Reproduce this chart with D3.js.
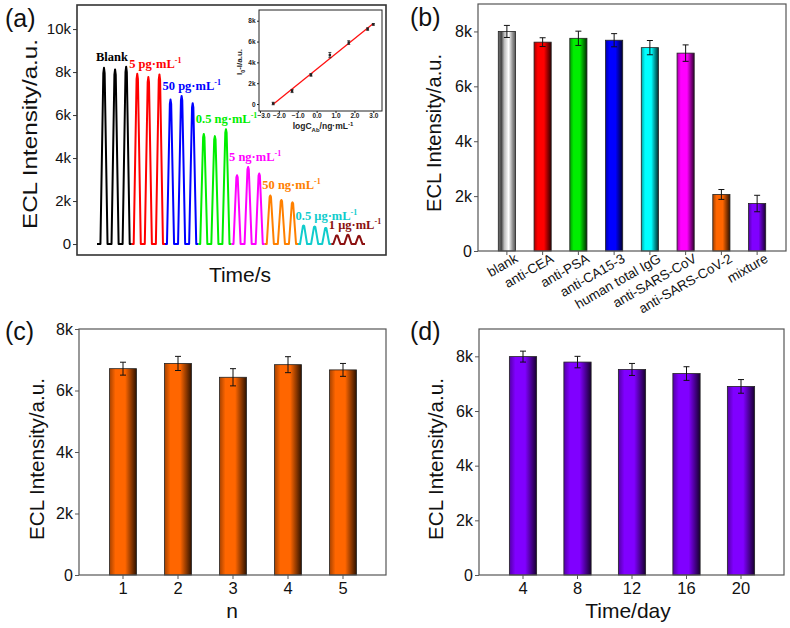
<!DOCTYPE html>
<html>
<head>
<meta charset="utf-8">
<script src="https://cdn.jsdelivr.net/npm/d3@7"></script>
<style>
  body { margin: 0; background: #fff; }
  svg { display: block; }
  text { font-family: "Liberation Sans", Arial, sans-serif; }
</style>
</head>
<body>
<svg id="chart" width="790" height="628"></svg>
<script>
"use strict";

// (a) ECL responses, three scans for every concentration
var concText = ['Blank', '5 pg·mL', '50 pg·mL', '0.5 ng·mL', '5 ng·mL', '50 ng·mL', '0.5 μg·mL', '1 μg·mL'];
var concSup = ['', '-1', '-1', '-1', '-1', '-1', '-1', '-1'];
var concColors = ['#000000', '#ff0000', '#0000ff', '#00ee00', '#ff00ff', '#ff8000', '#10cccc', '#8b1010'];
var peakHeights = [
  [8200, 8120, 8250],
  [7920, 7770, 7890],
  [6720, 6890, 6550],
  [5120, 5020, 5340],
  [3200, 3580, 3280],
  [2260, 2050, 1940],
  [860, 820, 750],
  [400, 430, 380]
];
var ticksA = [0, 2000, 4000, 6000, 8000, 10000];

// (a) inset calibration
var logC = [-2.3, -1.3, -0.3, 0.7, 1.7, 2.7, 3];
var deltaI = [50, 1250, 2800, 4700, 5900, 7200, 7650];
var deltaErr = [120, 150, 130, 250, 180, 120, 80];
var insetTicksX = [-3, -2, -1, 0, 1, 2, 3];
var insetTicksY = [0, 2000, 4000, 6000, 8000];

// (b) selectivity
var interfCats = ['blank', 'anti-CEA', 'anti-PSA', 'anti-CA15-3', 'human total IgG', 'anti-SARS-CoV', 'anti-SARS-CoV-2', 'mixture'];
var interfValues = [8000, 7610, 7750, 7680, 7410, 7210, 2060, 1730];
var interfErrors = [220, 160, 260, 240, 260, 300, 180, 300];
var interfColors = ['#f4f4f4', '#ff0000', '#00ee00', '#0000ff', '#00ffff', '#ff00ff', '#ff6600', '#8000ff'];
var ticksB = [0, 2000, 4000, 6000, 8000];

// (c) reproducibility
var runCats = ['1', '2', '3', '4', '5'];
var runValues = [6710, 6880, 6430, 6840, 6670];
var runErrors = [210, 230, 280, 260, 210];

// (d) stability
var dayCats = ['4', '8', '12', '16', '20'];
var dayValues = [7990, 7790, 7520, 7370, 6900];
var dayErrors = [200, 210, 220, 250, 250];

var svg = d3.select('#chart');
var defs = svg.append('defs');
var fmtK = function(d) { return d === 0 ? '0' : (d / 1000) + 'k'; };

function makeGradient(id, color) {
  var c = d3.color(color);
  var dark = d3.interpolateRgb(color, '#000')(0.82);
  var mid = d3.interpolateRgb(color, '#000')(0.35);
  var gr = defs.append('linearGradient').attr('id', id).attr('x1', '0%').attr('x2', '100%');
  gr.append('stop').attr('offset', '0%').attr('stop-color', mid);
  gr.append('stop').attr('offset', '22%').attr('stop-color', c);
  gr.append('stop').attr('offset', '58%').attr('stop-color', c);
  gr.append('stop').attr('offset', '100%').attr('stop-color', dark);
}

function makeGrayGradient(id) {
  var gr = defs.append('linearGradient').attr('id', id).attr('x1', '0%').attr('x2', '100%');
  [['0%', '#777'], ['18%', '#444'], ['35%', '#bbb'], ['60%', '#ffffff'], ['82%', '#999'], ['100%', '#555']].forEach(function(s) {
    gr.append('stop').attr('offset', s[0]).attr('stop-color', s[1]);
  });
}

function frame(x0, y0, x1, y1, col, w) {
  svg.append('rect').attr('x', x0).attr('y', y0).attr('width', x1 - x0).attr('height', y1 - y0)
    .attr('fill', 'none').attr('stroke', col).attr('stroke-width', w);
}

function yAxis(y, ticks, x0, size, col) {
  var g = svg.append('g').attr('transform', 'translate(' + x0 + ',0)')
    .call(d3.axisLeft(y).tickValues(ticks).tickFormat(fmtK).tickSize(4).tickPadding(2));
  g.select('.domain').remove();
  g.selectAll('line').attr('stroke', col);
  g.selectAll('text').attr('font-size', size).attr('fill', '#111').style('font-family', '"Liberation Sans", Arial, sans-serif');
  return g;
}

function yLabel(cx, cy, size, len) {
  var t = svg.append('text').attr('transform', 'translate(' + cx + ',' + cy + ') rotate(-90)')
    .attr('text-anchor', 'middle').attr('dy', '0.35em').attr('font-size', size).attr('fill', '#111')
    .text('ECL Intensity/a.u.');
  if (len) t.attr('textLength', len).attr('lengthAdjust', 'spacingAndGlyphs');
}

function panelTag(x, y, s) {
  svg.append('text').attr('x', x).attr('y', y).attr('font-size', 25).attr('fill', '#111').text(s);
}

function bars(x, y, cats, vals, errs, fills) {
  var g = svg.append('g');
  g.selectAll('rect.bar').data(cats).enter().append('rect').attr('class', 'bar')
    .attr('x', function(d) { return x(d); })
    .attr('y', function(d, i) { return y(vals[i]); })
    .attr('width', x.bandwidth())
    .attr('height', function(d, i) { return y(0) - y(vals[i]); })
    .attr('fill', function(d, i) { return fills[i]; })
    .attr('stroke', '#222').attr('stroke-width', 0.8);
  var cap = 3;
  cats.forEach(function(d, i) {
    var cx = x(d) + x.bandwidth() / 2;
    var eb = g.append('g').attr('stroke', '#111').attr('stroke-width', 1);
    eb.append('line').attr('x1', cx).attr('x2', cx).attr('y1', y(vals[i] + errs[i])).attr('y2', y(vals[i] - errs[i]));
    eb.append('line').attr('x1', cx - cap).attr('x2', cx + cap).attr('y1', y(vals[i] + errs[i])).attr('y2', y(vals[i] + errs[i]));
    eb.append('line').attr('x1', cx - cap).attr('x2', cx + cap).attr('y1', y(vals[i] - errs[i])).attr('y2', y(vals[i] - errs[i]));
  });
}

function xTicks(x, cats, yBase, col) {
  var g = svg.append('g').attr('transform', 'translate(0,' + yBase + ')')
    .call(d3.axisBottom(x).tickValues(cats).tickSize(4).tickPadding(3));
  g.select('.domain').remove();
  g.selectAll('line').attr('stroke', col);
  return g;
}

// ---------- (a) ----------
function drawA() {
  var xA = d3.scaleLinear().domain([-0.63, 23.54]).range([97, 365]);
  var yA = d3.scaleLinear().domain([-510, 11120]).range([255, 5]);
  var line = d3.line().x(function(p) { return xA(p[0]); }).y(function(p) { return yA(p[1]); });

  peakHeights.forEach(function(hs, g) {
    var first = 3 * g;
    var pts = [[g === 0 ? -0.63 : first - 0.5, 0]];
    hs.forEach(function(h, k) {
      var c = first + k;
      pts.push([c - 0.32, 0], [c - 0.06, h * 0.97], [c, h], [c + 0.06, h * 0.97], [c + 0.32, 0]);
    });
    pts.push([g === peakHeights.length - 1 ? 23.54 : first + 2.5, 0]);
    svg.append('path').attr('d', line(pts)).attr('fill', 'none')
      .attr('stroke', concColors[g]).attr('stroke-width', 2).attr('stroke-linejoin', 'round');

    var t = svg.append('text').attr('x', xA(first) - 8).attr('y', yA(d3.max(hs)) - 6)
      .attr('fill', concColors[g]).attr('font-size', 12.5).attr('font-weight', 'bold')
      .style('font-family', '"Liberation Serif", "Times New Roman", serif').text(concText[g]);
    if (concSup[g]) t.append('tspan').attr('dy', -5).attr('font-size', 8).text(concSup[g]);
  });

  frame(77, 5, 386, 255, '#333', 1.6);
  yAxis(yA, ticksA, 77, 15, '#333');
  yLabel(30, 134, 20, 190);
  svg.append('text').attr('x', 240).attr('y', 282).attr('text-anchor', 'middle')
    .attr('font-size', 21).attr('fill', '#111').text('Time/s');
  panelTag(5, 27, '(a)');

  // inset
  var xI = d3.scaleLinear().domain([-3.05, 3.46]).range([259, 382]);
  var yI = d3.scaleLinear().domain([-670, 9030]).range([111, 10]);
  svg.append('rect').attr('x', 259).attr('y', 10).attr('width', 123).attr('height', 101)
    .attr('fill', '#fff').attr('stroke', '#222').attr('stroke-width', 1);
  var gy = svg.append('g').attr('transform', 'translate(259,0)')
    .call(d3.axisLeft(yI).tickValues(insetTicksY).tickFormat(fmtK).tickSize(2).tickPadding(1.5));
  var gx = svg.append('g').attr('transform', 'translate(0,111)')
    .call(d3.axisBottom(xI).tickValues(insetTicksX).tickSize(2).tickPadding(0.5));
  [gx, gy].forEach(function(g) {
    g.select('.domain').remove();
    g.selectAll('line').attr('stroke', '#222');
    g.selectAll('text').attr('font-size', 6.5).attr('font-weight', 'bold').attr('fill', '#222')
      .style('font-family', '"Liberation Sans", Arial, sans-serif');
  });
  gx.selectAll('text').attr('dx', function(d) { return d === -3 ? 3.5 : 0; });

  // least squares line through the calibration points
  var mx = d3.mean(logC), my = d3.mean(deltaI);
  var sxy = d3.sum(logC, function(v, i) { return (v - mx) * (deltaI[i] - my); });
  var sxx = d3.sum(logC, function(v) { return (v - mx) * (v - mx); });
  var slope = sxy / sxx, icpt = my - slope * mx;
  var xs = d3.extent(logC);
  svg.append('line').attr('x1', xI(xs[0])).attr('y1', yI(icpt + slope * xs[0]))
    .attr('x2', xI(xs[1])).attr('y2', yI(icpt + slope * xs[1]))
    .attr('stroke', '#ff1010').attr('stroke-width', 1.3);
  logC.forEach(function(v, i) {
    var cx = xI(v);
    var e = svg.append('g').attr('stroke', '#222').attr('stroke-width', 0.8);
    e.append('line').attr('x1', cx).attr('x2', cx).attr('y1', yI(deltaI[i] + deltaErr[i])).attr('y2', yI(deltaI[i] - deltaErr[i]));
    e.append('line').attr('x1', cx - 1.5).attr('x2', cx + 1.5).attr('y1', yI(deltaI[i] + deltaErr[i])).attr('y2', yI(deltaI[i] + deltaErr[i]));
    e.append('line').attr('x1', cx - 1.5).attr('x2', cx + 1.5).attr('y1', yI(deltaI[i] - deltaErr[i])).attr('y2', yI(deltaI[i] - deltaErr[i]));
    svg.append('rect').attr('x', cx - 1.2).attr('y', yI(deltaI[i]) - 1.2).attr('width', 2.4).attr('height', 2.4).attr('fill', '#222');
  });

  var lx = svg.append('text').attr('x', 323).attr('y', 129).attr('text-anchor', 'middle')
    .attr('font-size', 8.5).attr('font-weight', 'bold').attr('fill', '#222').text('logC');
  lx.append('tspan').attr('dy', 2.5).attr('font-size', 6).text('Ab');
  lx.append('tspan').attr('dy', -2.5).text('/ng·mL');
  lx.append('tspan').attr('dy', -3.5).attr('font-size', 6).text('-1');

  var ly = svg.append('text').attr('transform', 'translate(242,62) rotate(-90)').attr('text-anchor', 'middle')
    .attr('font-size', 8).attr('font-weight', 'bold').attr('fill', '#222').text('I');
  ly.append('tspan').attr('dy', 2.5).attr('font-size', 5.5).text('0');
  ly.append('tspan').attr('dy', -2.5).text('-I/a.u.');
}

// ---------- (b) ----------
function drawB() {
  var x = d3.scaleBand().domain(interfCats).range([489, 775]).paddingInner(0.52).paddingOuter(0.26);
  var y = d3.scaleLinear().domain([0, 9000]).range([251, 4]);
  makeGrayGradient('gradB0');
  interfColors.forEach(function(c, i) { if (i > 0) makeGradient('gradB' + i, c); });
  var fills = interfCats.map(function(d, i) { return 'url(#gradB' + i + ')'; });
  bars(x, y, interfCats, interfValues, interfErrors, fills);
  frame(478, 4, 786, 251, '#555', 1.2);
  yAxis(y, ticksB, 478, 16, '#555');
  var gx = xTicks(x, interfCats, 251, '#555');
  gx.selectAll('text').attr('font-size', 13.5).attr('fill', '#111')
    .style('font-family', '"Liberation Sans", Arial, sans-serif')
    .attr('text-anchor', 'end').attr('dy', '0.35em')
    .attr('transform', 'translate(6,0) rotate(-30)');
  yLabel(434, 133, 20, 158);
  panelTag(410, 26, '(b)');
}

// ---------- (c) ----------
function drawC() {
  var x = d3.scaleBand().domain(runCats).range([95.5, 370.5]).paddingInner(0.51).paddingOuter(0.255);
  var y = d3.scaleLinear().domain([0, 8000]).range([575, 329]);
  makeGradient('gradC', '#ff6600');
  bars(x, y, runCats, runValues, runErrors, runCats.map(function() { return 'url(#gradC)'; }));
  frame(79, 329, 386, 575, '#555', 1.2);
  yAxis(y, ticksB, 79, 16, '#555');
  xTicks(x, runCats, 575, '#555').selectAll('text').attr('font-size', 16.5).attr('fill', '#111')
    .style('font-family', '"Liberation Sans", Arial, sans-serif');
  svg.append('text').attr('x', 232).attr('y', 618).attr('text-anchor', 'middle')
    .attr('font-size', 21).attr('fill', '#111').text('n');
  yLabel(37, 459, 20, 162);
  panelTag(5, 340, '(c)');
}

// ---------- (d) ----------
function drawD() {
  var x = d3.scaleBand().domain(dayCats).range([495.75, 768.25]).paddingInner(0.5).paddingOuter(0.25);
  var y = d3.scaleLinear().domain([0, 9000]).range([575, 329]);
  makeGradient('gradD', '#8000ff');
  bars(x, y, dayCats, dayValues, dayErrors, dayCats.map(function() { return 'url(#gradD)'; }));
  frame(479, 329, 784, 575, '#555', 1.2);
  yAxis(y, ticksB, 479, 16, '#555');
  xTicks(x, dayCats, 575, '#555').selectAll('text').attr('font-size', 16.5).attr('fill', '#111')
    .style('font-family', '"Liberation Sans", Arial, sans-serif');
  svg.append('text').attr('x', 628).attr('y', 618).attr('text-anchor', 'middle')
    .attr('font-size', 21).attr('fill', '#111').text('Time/day');
  yLabel(436, 459, 20, 162);
  panelTag(410, 340, '(d)');
}

drawA();
drawB();
drawC();
drawD();
</script>
</body>
</html>
